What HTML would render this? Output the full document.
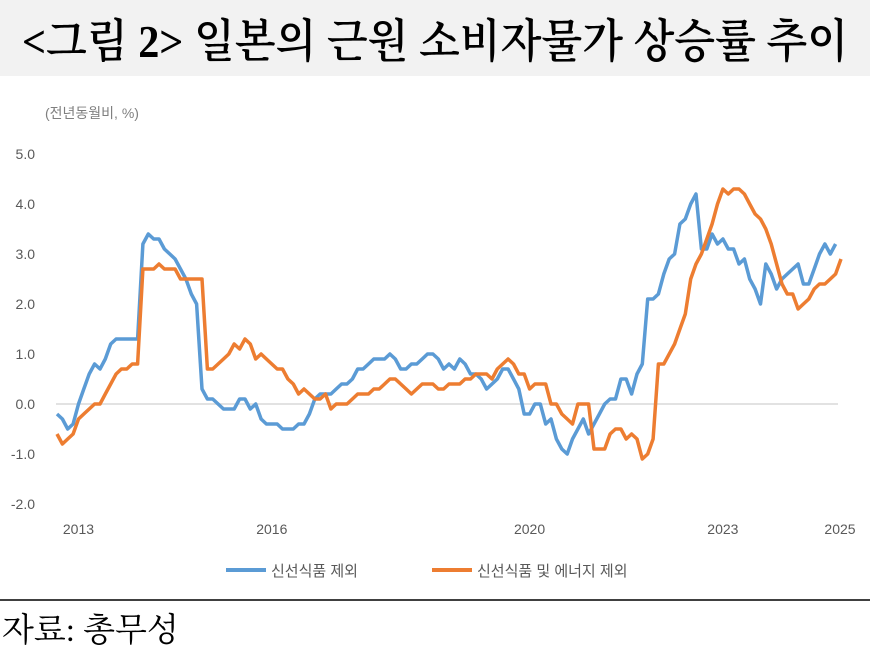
<!DOCTYPE html>
<html><head><meta charset="utf-8">
<style>
body{margin:0;background:#fff;width:870px;height:647px;overflow:hidden;font-family:"Liberation Sans","Noto Sans CJK KR",sans-serif}
</style></head>
<body>
<svg width="870" height="647" viewBox="0 0 870 647">
<rect x="0" y="0" width="870" height="76" fill="#f2f2f2"/>
<text x="22" y="57" font-family="'Liberation Serif','Noto Serif CJK SC',serif" font-size="46" font-weight="600" textLength="826" lengthAdjust="spacingAndGlyphs" fill="#000">&lt;그림 2&gt; 일본의 근원 소비자물가 상승률 추이</text>
<text x="45" y="118" font-size="14" fill="#7f7f7f">(전년동월비, %)</text>
<g id="yaxis"></g>
<g id="xaxis"></g>
<g id="series"></g>
<g>
<line x1="226" y1="570" x2="266" y2="570" stroke="#5b9bd5" stroke-width="4"/>
<text x="271" y="576" font-size="15" fill="#595959">신선식품 제외</text>
<line x1="432" y1="570" x2="472" y2="570" stroke="#ed7d31" stroke-width="4"/>
<text x="477" y="576" font-size="15" fill="#595959">신선식품 및 에너지 제외</text>
</g>
<line x1="0" y1="600" x2="870" y2="600" stroke="#000" stroke-width="1.5"/>
<text x="2" y="641" font-family="'Liberation Serif','Noto Serif CJK SC',serif" font-size="33" fill="#000">자료: 총무성</text>
</svg>
<script>
const yTicks=[5,4,3,2,1,0,-1,-2];
const yTickLabels=["5.0","4.0","3.0","2.0","1.0","0.0","-1.0","-2.0"];
const xTickLabels=["2013","2016","2020","2023","2025"];
const xTickMonth=[4,40,88,124,146];
const coreExFresh=[-0.2,-0.3,-0.5,-0.4,0.0,0.3,0.6,0.8,0.7,0.9,1.2,1.3,1.3,1.3,1.3,1.3,3.2,3.4,3.3,3.3,3.1,3.0,2.9,2.7,2.5,2.2,2.0,0.3,0.1,0.1,0.0,-0.1,-0.1,-0.1,0.1,0.1,-0.1,0.0,-0.3,-0.4,-0.4,-0.4,-0.5,-0.5,-0.5,-0.4,-0.4,-0.2,0.1,0.2,0.2,0.2,0.3,0.4,0.4,0.5,0.7,0.7,0.8,0.9,0.9,0.9,1.0,0.9,0.7,0.7,0.8,0.8,0.9,1.0,1.0,0.9,0.7,0.8,0.7,0.9,0.8,0.6,0.6,0.5,0.3,0.4,0.5,0.7,0.7,0.5,0.3,-0.2,-0.2,0.0,0.0,-0.4,-0.3,-0.7,-0.9,-1.0,-0.7,-0.5,-0.3,-0.6,-0.4,-0.2,0.0,0.1,0.1,0.5,0.5,0.2,0.6,0.8,2.1,2.1,2.2,2.6,2.9,3.0,3.6,3.7,4.0,4.2,3.1,3.1,3.4,3.2,3.3,3.1,3.1,2.8,2.9,2.5,2.3,2.0,2.8,2.6,2.3,2.5,2.6,2.7,2.8,2.4,2.4,2.7,3.0,3.2,3.0,3.2];
const coreExFreshEnergy=[-0.6,-0.8,-0.7,-0.6,-0.3,-0.2,-0.1,0.0,0.0,0.2,0.4,0.6,0.7,0.7,0.8,0.8,2.7,2.7,2.7,2.8,2.7,2.7,2.7,2.5,2.5,2.5,2.5,2.5,0.7,0.7,0.8,0.9,1.0,1.2,1.1,1.3,1.2,0.9,1.0,0.9,0.8,0.7,0.7,0.5,0.4,0.2,0.3,0.2,0.1,0.1,0.2,-0.1,0.0,0.0,0.0,0.1,0.2,0.2,0.2,0.3,0.3,0.4,0.5,0.5,0.4,0.3,0.2,0.3,0.4,0.4,0.4,0.3,0.3,0.4,0.4,0.4,0.5,0.5,0.6,0.6,0.6,0.5,0.7,0.8,0.9,0.8,0.6,0.6,0.3,0.4,0.4,0.4,0.0,0.0,-0.2,-0.3,-0.4,0.0,0.0,0.0,-0.9,-0.9,-0.9,-0.6,-0.5,-0.5,-0.7,-0.6,-0.7,-1.1,-1.0,-0.7,0.8,0.8,1.0,1.2,1.5,1.8,2.5,2.8,3.0,3.3,3.6,4.0,4.3,4.2,4.3,4.3,4.2,4.0,3.8,3.7,3.5,3.2,2.8,2.4,2.2,2.2,1.9,2.0,2.1,2.3,2.4,2.4,2.5,2.6,2.9];
const NS='http://www.w3.org/2000/svg';
const x0=57,dx=5.37,yZero=404,yUnit=50;
function xs(i){return x0+i*dx;}
function ys(v){return yZero-v*yUnit;}
const ya=document.getElementById('yaxis'),xa=document.getElementById('xaxis'),sg=document.getElementById('series');
yTicks.forEach((v,k)=>{
 const t=document.createElementNS(NS,'text');
 
 
 t.setAttribute('x',35);t.setAttribute('y',ys(v)+5);t.setAttribute('text-anchor','end');
 t.setAttribute('font-size','14');t.setAttribute('fill','#595959');t.textContent=yTickLabels[k];ya.appendChild(t);
});
const zl=document.createElementNS(NS,'line');


zl.setAttribute('x1',56);zl.setAttribute('x2',838);zl.setAttribute('y1',ys(0));zl.setAttribute('y2',ys(0));
zl.setAttribute('stroke','#d9d9d9');zl.setAttribute('stroke-width','1.5');ya.appendChild(zl);
xTickLabels.forEach((l,k)=>{
 const t=document.createElementNS(NS,'text');
 
 
 t.setAttribute('x',Math.min(xs(xTickMonth[k]),840));t.setAttribute('y',534);t.setAttribute('text-anchor','middle');
 t.setAttribute('font-size','14');t.setAttribute('fill','#595959');t.textContent=l;xa.appendChild(t);
});
function drawLine(arr,color,name){
 const p=document.createElementNS(NS,'polyline');
 
 
 p.setAttribute('points',arr.map((v,i)=>xs(i).toFixed(1)+','+ys(v).toFixed(1)).join(' '));
 p.setAttribute('fill','none');p.setAttribute('stroke',color);p.setAttribute('stroke-width','3.5');p.setAttribute('stroke-linejoin','round');
 sg.appendChild(p);
}
drawLine(coreExFresh,'#5b9bd5','line-core-ex-fresh');
drawLine(coreExFreshEnergy,'#ed7d31','line-core-ex-fresh-energy');
</script>
</body></html>
